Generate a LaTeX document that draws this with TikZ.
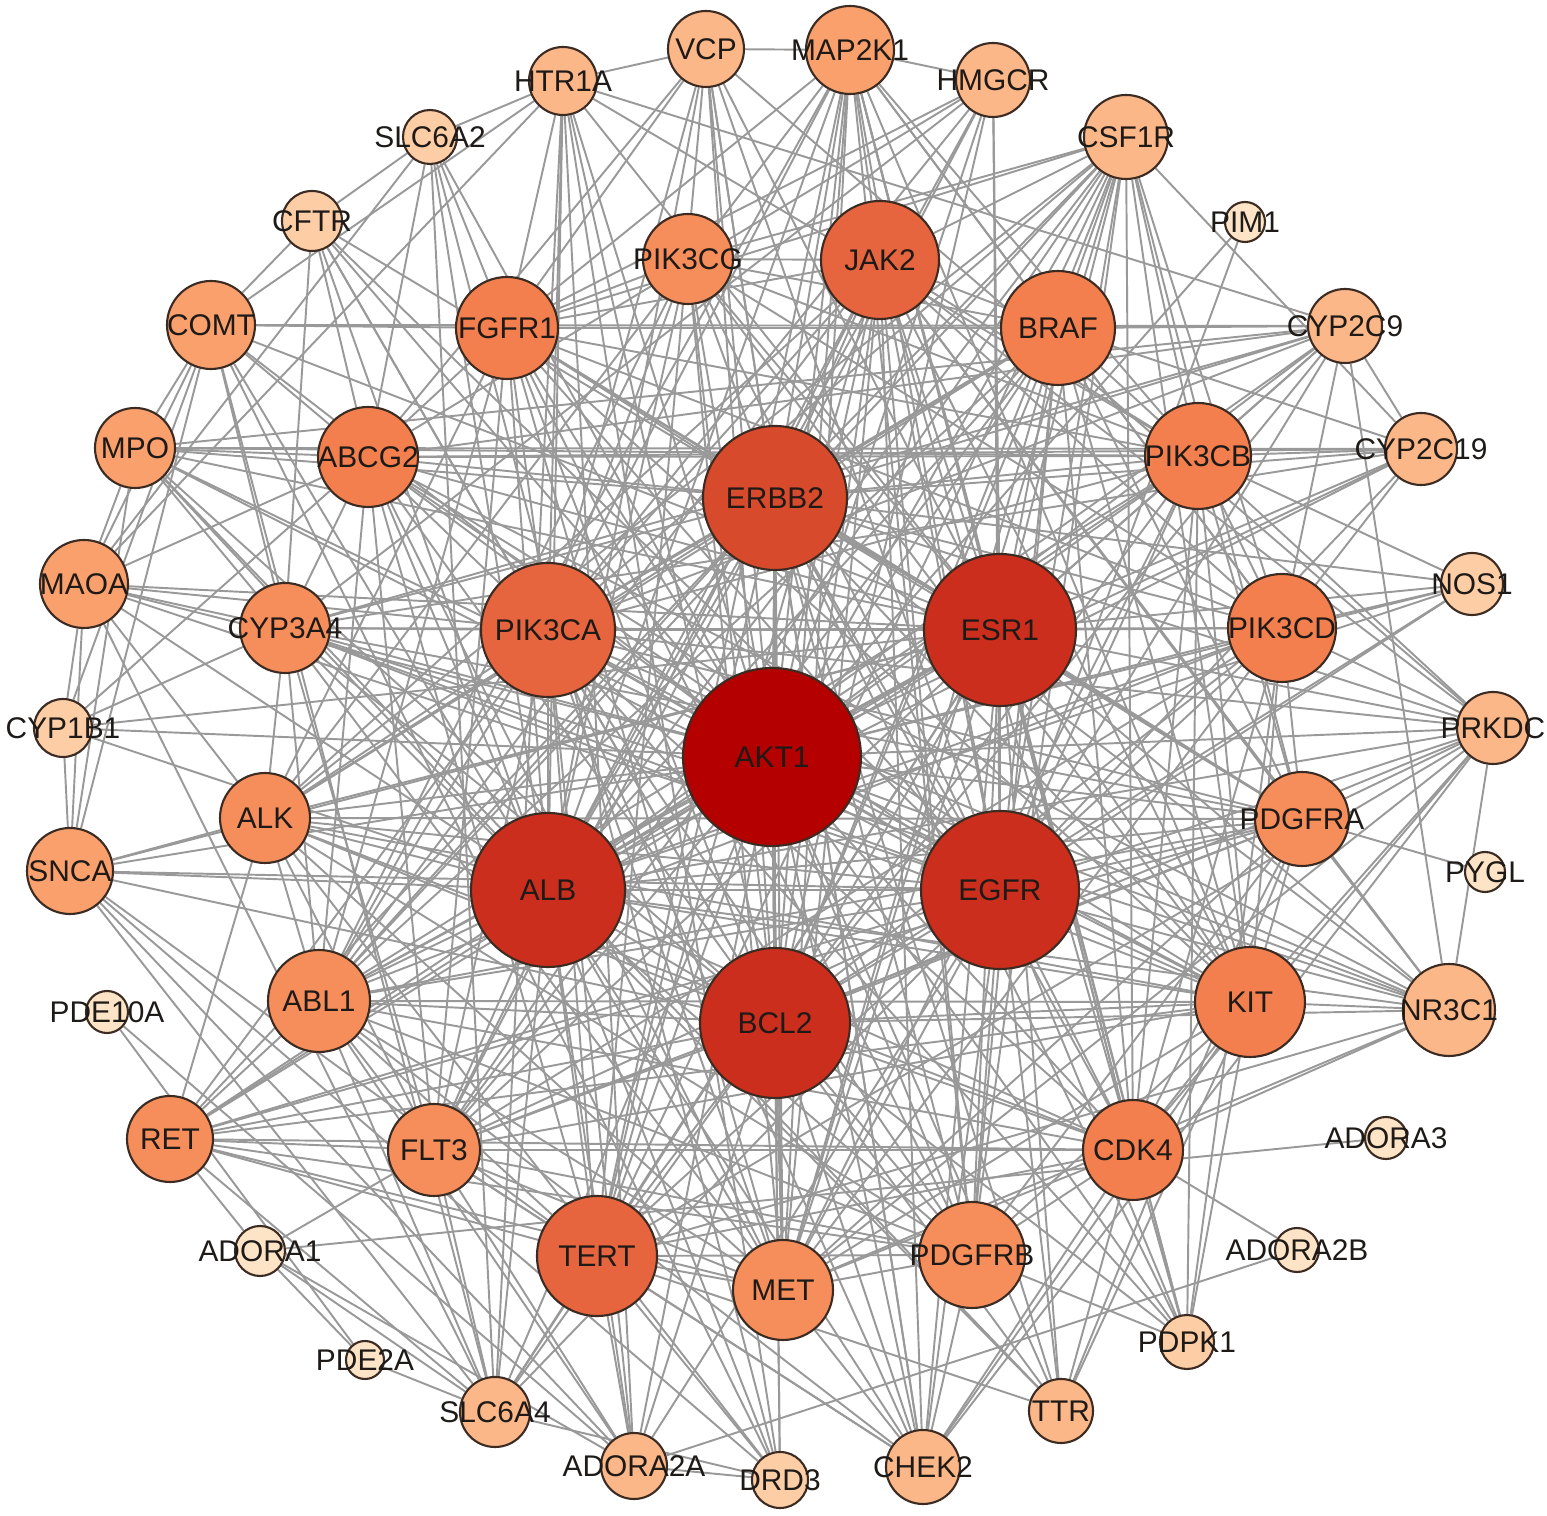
\documentclass[tikz,border=0pt]{standalone}
\usepackage{fontspec}
\newfontfamily\genefont{Liberation Sans}
\usetikzlibrary{backgrounds}
\definecolor{coredark}{HTML}{B50000}
\definecolor{corered}{HTML}{CC2E1D}
\definecolor{hubred}{HTML}{D74A2C}
\definecolor{hubcoral}{HTML}{E6653F}
\definecolor{midorange}{HTML}{F27F4D}
\definecolor{midsalmon}{HTML}{F68E5B}
\definecolor{rimpeach}{HTML}{F9A06D}
\definecolor{rimlight}{HTML}{FBB788}
\definecolor{rimpale}{HTML}{FDCDA5}
\definecolor{rimcream}{HTML}{FDE4C6}
\definecolor{edgegray}{HTML}{999999}
\definecolor{geneline}{HTML}{3B2B22}
\definecolor{genetext}{HTML}{1E1A18}

\begin{document}
\begin{tikzpicture}[
  x=0.01cm,
  y=-0.01cm,
  line cap=round,
  gene/.style={circle,draw=geneline,line width=0.6pt,inner sep=0pt,
    text=genetext,font=\genefont\fontsize{8.5}{10}\selectfont},
  link/.style={draw=edgegray,line width=0.55pt}
]
  \useasboundingbox (0,0) rectangle (1547,1516);

  % Genes: name / x / y / radius (pixels of the layout) / fill.
  \foreach \n/\x/\y/\r/\c in {
      AKT1/772/757/89/coredark,
      ESR1/1000/630/76/corered, ALB/548/890/77/corered,
      EGFR/1000/890/79/corered, BCL2/775/1023/75/corered,
      ERBB2/775/498/72/hubred,
      PIK3CA/548/630/67/hubcoral, JAK2/880/260/59/hubcoral, TERT/597/1256/60/hubcoral,
      BRAF/1058/328/57/midorange, FGFR1/507/328/51/midorange,
      ABCG2/368/457/50/midorange, PIK3CB/1198/456/53/midorange,
      PIK3CD/1282/628/54/midorange, KIT/1250/1002/55/midorange,
      CDK4/1133/1150/50/midorange,
      PIK3CG/688/259/45/midsalmon, CYP3A4/285/628/45/midsalmon,
      ALK/265/818/45/midsalmon, PDGFRA/1302/819/47/midsalmon,
      ABL1/319/1001/51/midsalmon, FLT3/434/1150/46/midsalmon,
      PDGFRB/972/1255/53/midsalmon, MET/783/1290/50/midsalmon,
      RET/170/1139/43/midsalmon,
      COMT/211/325/44/rimpeach, MPO/135/448/40/rimpeach,
      MAOA/84/584/44/rimpeach, SNCA/70/871/43/rimpeach,
      MAP2K1/850/50/44/rimpeach,
      HTR1A/563/81/34/rimlight, VCP/706/49/38/rimlight,
      HMGCR/993/80/37/rimlight, CSF1R/1126/137/42/rimlight,
      CYP2C9/1345/326/37/rimlight, CYP2C19/1421/449/36/rimlight,
      PRKDC/1493/728/36/rimlight, NR3C1/1449/1010/46/rimlight,
      TTR/1061/1411/32/rimlight, CHEK2/923/1467/37/rimlight,
      ADORA2A/634/1466/33/rimlight, SLC6A4/495/1412/35/rimlight,
      SLC6A2/430/137/27/rimpale, CFTR/312/221/30/rimpale,
      CYP1B1/63/728/29/rimpale, NOS1/1472/584/31/rimpale,
      DRD3/780/1480/28/rimpale, PDPK1/1187/1342/27/rimpale,
      PIM1/1245/222/20/rimcream, PYGL/1485/872/20/rimcream,
      ADORA3/1386/1138/21/rimcream, ADORA2B/1297/1250/22/rimcream,
      PDE2A/365/1360/19/rimcream, ADORA1/260/1251/25/rimcream,
      PDE10A/107/1012/21/rimcream} {
    \node[gene,fill=\c,minimum size=2*\r*0.01cm] (\n) at (\x,\y) {\makebox[0pt]{\n}};
  }

  \begin{scope}[on background layer]
    % Core genes connect to one another and to every kinase-tier gene.
    \foreach \h in {AKT1,ERBB2,ESR1,PIK3CA,ALB,EGFR,BCL2} {
      \foreach \m in {JAK2,BRAF,FGFR1,PIK3CG,ABCG2,PIK3CB,PIK3CD,CYP3A4,ALK,
                      PDGFRA,ABL1,KIT,FLT3,CDK4,TERT,PDGFRB,MET} {
        \draw[link] (\h) -- (\m);
      }
    }
    % Remaining interactions, listed per source gene.
    \foreach \s/\targets in {
        AKT1/{ERBB2,ESR1,PIK3CA,ALB,EGFR,BCL2},
        ERBB2/{ESR1,PIK3CA,ALB,EGFR,BCL2},
        ESR1/{PIK3CA,ALB,EGFR,BCL2},
        PIK3CA/{ALB,EGFR,BCL2},
        ALB/{EGFR,BCL2},
        EGFR/{BCL2},
        JAK2/{BRAF,FGFR1,PIK3CG,PIK3CB,PIK3CD,ALK,PDGFRA,ABL1,KIT,FLT3,CDK4,TERT,PDGFRB,MET},
        BRAF/{FGFR1,PIK3CB,PIK3CD,ALK,PDGFRA,ABL1,KIT,FLT3,CDK4,PDGFRB,MET,PIK3CG},
        FGFR1/{PIK3CG,PIK3CB,PIK3CD,ALK,PDGFRA,ABL1,KIT,FLT3,PDGFRB,MET,ABCG2},
        PIK3CG/{PIK3CB,PIK3CD,ABL1,KIT,MET},
        ABCG2/{CYP3A4,ABL1,KIT,PIK3CB,MET,TERT,FLT3},
        PIK3CB/{PIK3CD,KIT,PDGFRA,MET,ABL1,CDK4},
        PIK3CD/{PDGFRA,KIT,ABL1,FLT3,MET,CDK4},
        CYP3A4/{ALK,ABL1,KIT,PDGFRA,FLT3,MET},
        ALK/{ABL1,KIT,FLT3,PDGFRA,PDGFRB,MET,CDK4},
        PDGFRA/{KIT,FLT3,PDGFRB,ABL1,MET,CDK4},
        ABL1/{KIT,FLT3,PDGFRB,MET,CDK4,TERT},
        KIT/{FLT3,PDGFRB,MET,CDK4},
        FLT3/{PDGFRB,MET,CDK4,TERT},
        CDK4/{TERT,PDGFRB,MET},
        TERT/{MET,PDGFRB},
        PDGFRB/{MET},
        RET/{ABL1,ALK,ALB,AKT1,EGFR,ERBB2,PIK3CA,BCL2,FLT3,KIT,CDK4,MET,TERT,PDGFRB,PDGFRA,ESR1,SLC6A4,ADORA1},
        SNCA/{CYP1B1,MAOA,MPO,COMT,ALB,AKT1,BCL2,ESR1,EGFR,SLC6A4,ADORA2A,TERT,ALK},
        MAOA/{CYP1B1,COMT,MPO,CYP3A4,ESR1,AKT1,ALB,SLC6A4,SLC6A2,HTR1A,DRD3,PIK3CA,ABCG2,EGFR},
        MPO/{COMT,ALB,AKT1,ESR1,ERBB2,ABCG2,CYP3A4,BCL2,PIK3CB,TTR,EGFR},
        COMT/{CFTR,CYP3A4,ALB,AKT1,ESR1,CYP2C9,SLC6A4,HTR1A,DRD3,ABCG2,CYP1B1,FGFR1},
        CFTR/{SLC6A2,ALB,AKT1,EGFR,ABCG2,BCL2,ERBB2,CYP3A4,PIK3CA},
        SLC6A2/{HTR1A,SLC6A4,DRD3,ALB,AKT1,ABCG2,FGFR1},
        HTR1A/{VCP,SLC6A4,DRD3,ADORA2A,AKT1,ALB,ESR1,PIK3CA,BCL2,PIK3CB,FGFR1,CYP2C9},
        VCP/{MAP2K1,AKT1,ERBB2,ESR1,PIK3CA,EGFR,BCL2,FGFR1,ALB,TERT,CHEK2,PRKDC,ABCG2},
        MAP2K1/{HMGCR,BRAF,AKT1,ERBB2,EGFR,PIK3CA,ESR1,BCL2,JAK2,MET,KIT,ABL1,FGFR1,PDGFRB,PIK3CD,PIK3CB,CDK4,ALB,TERT,PDPK1,ALK},
        HMGCR/{AKT1,ALB,ESR1,EGFR,BCL2,ERBB2,CYP3A4,PIK3CA,ABCG2,FGFR1},
        CSF1R/{KIT,FLT3,PDGFRA,PDGFRB,JAK2,ABL1,AKT1,EGFR,ERBB2,PIK3CA,BRAF,ALK,MET,FGFR1,PIK3CD,ESR1,BCL2,CYP2C19,PIK3CB,TERT,CDK4,ALB,PIK3CG},
        PIM1/{EGFR,AKT1},
        CYP2C9/{CYP2C19,PIK3CB,ALB,ESR1,AKT1,CYP3A4,EGFR,PIK3CA,BRAF,BCL2,ERBB2,ABCG2,NR3C1,PIK3CD,MPO},
        CYP2C19/{PIK3CB,ALB,CYP3A4,ESR1,AKT1,MPO,ABCG2,PIK3CD,ERBB2,EGFR,BRAF},
        NOS1/{ESR1,AKT1,ALB,EGFR,ERBB2,PIK3CD,BCL2,PIK3CB},
        PRKDC/{AKT1,ESR1,EGFR,ERBB2,BCL2,PIK3CA,PIK3CD,PDGFRA,KIT,CDK4,TERT,CHEK2,PIK3CB,JAK2,MET,ALB},
        PYGL/{PDGFRA},
        NR3C1/{KIT,AKT1,EGFR,ALB,BCL2,ESR1,ERBB2,CDK4,PDGFRA,CYP3A4,JAK2,MET,PIK3CA,TERT,ABCG2,PRKDC},
        ADORA3/{ADORA1},
        ADORA2B/{CDK4,ADORA2A},
        PDPK1/{PIK3CB,PIK3CD,PIK3CA,AKT1,ERBB2,EGFR,ESR1,BCL2,CDK4,KIT,PDGFRB},
        TTR/{ALB,ESR1,EGFR,CDK4,BCL2,AKT1,ERBB2,KIT,PDGFRA,TERT},
        CHEK2/{AKT1,BCL2,EGFR,ESR1,ERBB2,CDK4,TERT,MET,PDGFRB,ALB,PIK3CA,FLT3,JAK2,ABL1,KIT},
        DRD3/{ADORA2A,SLC6A4,SNCA,TERT,ALB,AKT1,BCL2},
        ADORA2A/{ADORA1,TERT,ALB,AKT1,BCL2,EGFR,FLT3,ABL1,PIK3CA,PDE10A},
        SLC6A4/{ADORA1,ALB,AKT1,BCL2,ESR1,TERT,FLT3,ABL1,EGFR,PDE2A},
        PDE2A/{ADORA1,PDE10A},
        ADORA1/{FLT3},
        CYP1B1/{CYP3A4,ESR1,AKT1,ABCG2,ALB}} {
      \foreach \t in \targets {
        \draw[link] (\s) -- (\t);
      }
    }
  \end{scope}
\end{tikzpicture}
\end{document}
